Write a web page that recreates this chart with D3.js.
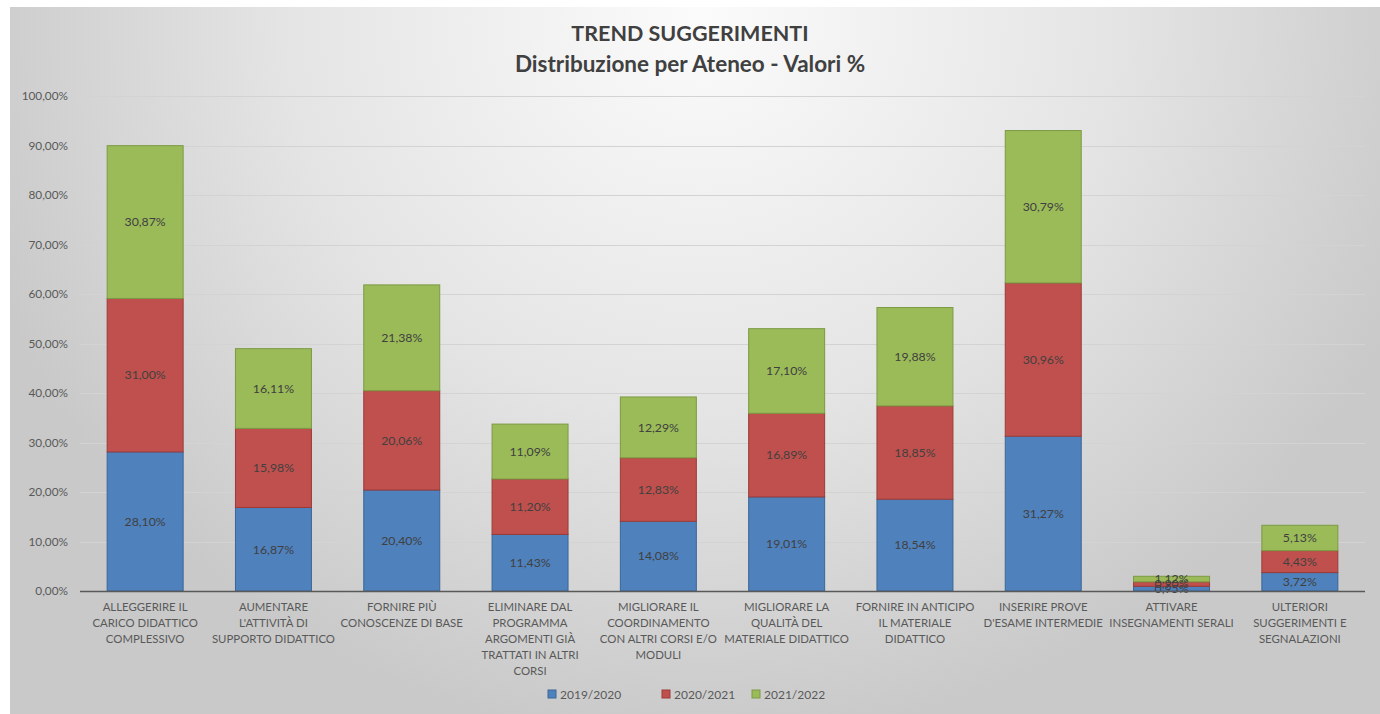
<!DOCTYPE html>
<html>
<head>
<meta charset="utf-8">
<script src="https://cdn.jsdelivr.net/npm/d3@7"></script>
<style>
  html,body{margin:0;padding:0;background:#ffffff;}
  svg{display:block;}
  text{font-family:Lato,"Open Sans",sans-serif;}
</style>
</head>
<body>
<svg id="chart" width="1380" height="714"></svg>
<script>
// ---- data ----
const categories = [
  ["ALLEGGERIRE IL","CARICO DIDATTICO","COMPLESSIVO"],
  ["AUMENTARE","L'ATTIVITÀ DI","SUPPORTO DIDATTICO"],
  ["FORNIRE PIÙ","CONOSCENZE DI BASE"],
  ["ELIMINARE DAL","PROGRAMMA","ARGOMENTI GIÀ","TRATTATI IN ALTRI","CORSI"],
  ["MIGLIORARE IL","COORDINAMENTO","CON ALTRI CORSI E/O","MODULI"],
  ["MIGLIORARE LA","QUALITÀ DEL","MATERIALE DIDATTICO"],
  ["FORNIRE IN ANTICIPO","IL MATERIALE","DIDATTICO"],
  ["INSERIRE PROVE","D'ESAME INTERMEDIE"],
  ["ATTIVARE","INSEGNAMENTI SERALI"],
  ["ULTERIORI","SUGGERIMENTI E","SEGNALAZIONI"]
];
const seriesNames = ["2019/2020","2020/2021","2021/2022"];
const s2019 = [28.10,16.87,20.40,11.43,14.08,19.01,18.54,31.27,0.95,3.72];
const s2020 = [31.00,15.98,20.06,11.20,12.83,16.89,18.85,30.96,0.90,4.43];
const s2021 = [30.87,16.11,21.38,11.09,12.29,17.10,19.88,30.79,1.12,5.13];
const yTicks = [0,10,20,30,40,50,60,70,80,90,100];
const titleLines = ["TREND SUGGERIMENTI","Distribuzione per Ateneo - Valori %"];
const colors = ["#4f81bd","#c0504d","#9bbb59"];
const strokes = ["#3a6797","#9c3b38","#7c9a44"];

// ---- setup ----
const svg = d3.select("#chart");
const W = 1380, H = 714;
const defs = svg.append("defs");
const rg = defs.append("radialGradient").attr("id","bg")
  .attr("gradientUnits","userSpaceOnUse")
  .attr("cx",700).attr("cy",20).attr("r",760)
  .attr("gradientTransform","translate(700,20) scale(1,0.95) translate(-700,-20)");
rg.append("stop").attr("offset","0").attr("stop-color","#fbfbfb");
rg.append("stop").attr("offset","0.55").attr("stop-color","#e4e4e4");
rg.append("stop").attr("offset","1").attr("stop-color","#c9c9c9");

svg.append("rect").attr("x",0).attr("y",0).attr("width",W).attr("height",H).attr("fill","#ffffff");
svg.append("rect").attr("x",10).attr("y",7).attr("width",W-10).attr("height",H-7).attr("fill","url(#bg)");

const loc = d3.formatLocale({decimal:",",thousands:".",grouping:[3],currency:["","€"]});
const f2 = loc.format(".2f");

const x = d3.scaleBand().domain(d3.range(categories.length)).range([81,1364]).paddingInner(0.4).paddingOuter(0.2);
const y = d3.scaleLinear().domain([0,100]).range([591,96]);

// gridlines
svg.append("g").selectAll("line").data(yTicks.filter(d=>d>0)).join("line")
  .attr("x1",80).attr("x2",1365)
  .attr("y1",d=>Math.round(y(d))+0.5).attr("y2",d=>Math.round(y(d))+0.5)
  .attr("stroke","#d3d3d3").attr("stroke-width",1);

// y axis labels
const yAxis = d3.axisLeft(y).tickValues(yTicks).tickFormat(d=>f2(d)+"%").tickSize(0).tickPadding(0);
const gy = svg.append("g").attr("transform","translate(68,0)").call(yAxis);
gy.select(".domain").remove();
gy.selectAll("text").attr("font-size",11.8).attr("fill","#595959").attr("font-family","Lato,'Open Sans',sans-serif");

// stacked data
const rows = categories.map((c,i)=>({i, a:s2019[i], b:s2020[i], c:s2021[i]}));
const stack = d3.stack().keys(["a","b","c"])(rows);

const gBars = svg.append("g");
stack.forEach((layer,k)=>{
  gBars.append("g").selectAll("rect").data(layer).join("rect")
    .attr("x",d=>x(d.data.i)+0.5)
    .attr("width",x.bandwidth()-1)
    .attr("y",d=>y(d[1]))
    .attr("height",d=>y(d[0])-y(d[1]))
    .attr("fill",colors[k])
    .attr("stroke",strokes[k]).attr("stroke-width",1);
});
stack.forEach((layer,k)=>{
  gBars.append("g").selectAll("text").data(layer).join("text")
    .attr("x",d=>x(d.data.i)+x.bandwidth()/2)
    .attr("y",d=>(y(d[0])+y(d[1]))/2)
    .attr("dy","0.35em")
    .attr("text-anchor","middle")
    .attr("font-size",12.3)
    .attr("fill","#404040")
    .text(d=>f2(d[1]-d[0])+"%");
});

// baseline
svg.append("line").attr("x1",80).attr("x2",1365).attr("y1",591.5).attr("y2",591.5)
  .attr("stroke","#595959").attr("stroke-width",1.5);

// category labels
const gx = svg.append("g");
categories.forEach((lines,i)=>{
  const t = gx.append("text").attr("text-anchor","middle").attr("font-size",11.4).attr("fill","#595959");
  lines.forEach((ln,j)=>{
    t.append("tspan").attr("x",x(i)+x.bandwidth()/2).attr("y",611+j*16).text(ln);
  });
});

// title
svg.append("text").attr("x",690).attr("y",41).attr("text-anchor","middle")
  .attr("font-size",21.5).attr("font-weight","bold").attr("fill","#404040").text(titleLines[0]);
svg.append("text").attr("x",690).attr("y",72).attr("text-anchor","middle")
  .attr("font-size",22.5).attr("font-weight","bold").attr("fill","#404040").text(titleLines[1]);

// legend
const legX = [548,662,752];
const gl = svg.append("g");
seriesNames.forEach((n,k)=>{
  gl.append("rect").attr("x",legX[k]).attr("y",690).attr("width",8).attr("height",8)
    .attr("fill",colors[k]).attr("stroke",strokes[k]);
  gl.append("text").attr("x",legX[k]+12).attr("y",698.5).attr("font-size",12).attr("fill","#595959").text(n);
});
</script>
</body>
</html>
